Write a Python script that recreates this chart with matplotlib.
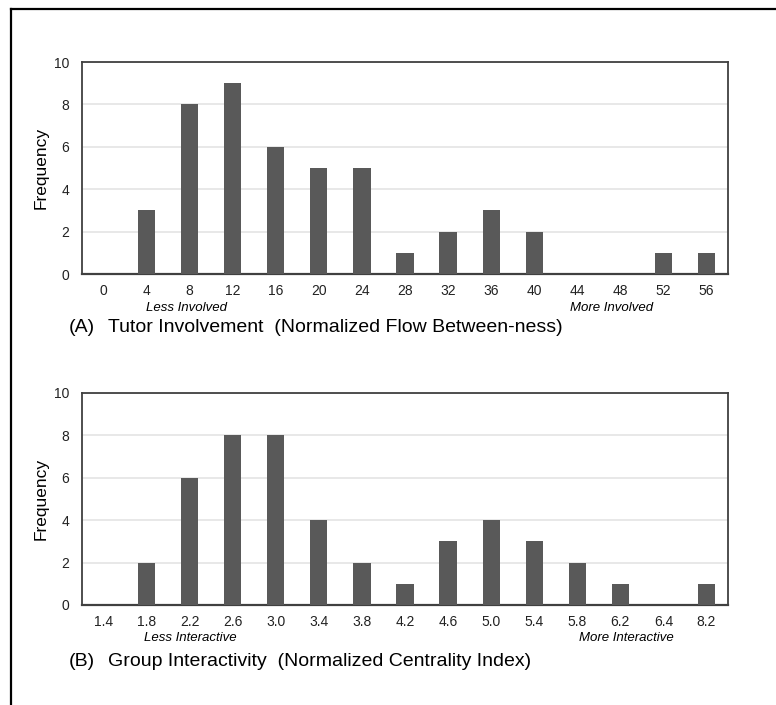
import matplotlib
matplotlib.use("Agg")
import matplotlib.pyplot as plt
from matplotlib.lines import Line2D

plt.rcParams['font.family'] = ['Liberation Sans', 'DejaVu Sans']

# panel A: tutor involvement
tutor_bins = ['0', '4', '8', '12', '16', '20', '24', '28', '32', '36', '40', '44', '48', '52', '56']
tutor_freq = [0, 3, 8, 9, 6, 5, 5, 1, 2, 3, 2, 0, 0, 1, 1]

# panel B: group interactivity
group_bins = ['1.4', '1.8', '2.2', '2.6', '3.0', '3.4', '3.8', '4.2', '4.6', '5.0', '5.4', '5.8', '6.2', '6.4', '8.2']
group_freq = [0, 2, 6, 8, 8, 4, 2, 1, 3, 4, 3, 2, 1, 0, 1]

W, H = 776, 705
BAR = '#595959'
SPINE = '#404040'
GRID = '#e4e4e4'


def px(x, y):
    return x / W, 1 - y / H


fig = plt.figure(figsize=(W / 100, H / 100), dpi=100)

# outer frame (left and top edges only)
fig.add_artist(Line2D([11 / W, 11 / W], [0, 1 - 9 / H], color='black', lw=1.6, transform=fig.transFigure))
fig.add_artist(Line2D([11 / W, 1], [1 - 9 / H, 1 - 9 / H], color='black', lw=1.6, transform=fig.transFigure))


def draw_panel(top_px, bins, freq):
    ax = fig.add_axes([82 / W, 1 - (top_px + 212) / H, 646 / W, 212 / H])
    pos = range(len(bins))
    ax.bar(pos, freq, width=0.4, color=BAR, zorder=3)
    ax.set_xlim(-0.5, len(bins) - 0.5)
    ax.set_ylim(0, 10)
    ax.set_yticks(range(0, 11, 2))
    ax.set_xticks(list(pos))
    ax.set_xticklabels(bins)
    ax.tick_params(axis='both', length=0, labelsize=10, colors='#222222')
    ax.tick_params(axis='x', pad=7)
    ax.tick_params(axis='y', pad=9)
    ax.yaxis.grid(True, color=GRID, lw=1.2, zorder=0)
    for s in ax.spines.values():
        s.set_color(SPINE)
        s.set_linewidth(1.3)
    ax.spines['bottom'].set_linewidth(1.6)
    ax.set_ylabel('Frequency', fontsize=12.5, labelpad=4)
    return ax


ax1 = draw_panel(62, tutor_bins, tutor_freq)
ax2 = draw_panel(393, group_bins, group_freq)

# panel A annotations
fig.text(*px(186, 308), 'Less Involved', style='italic', fontsize=9.5, ha='center', va='center')
fig.text(*px(612, 308), 'More Involved', style='italic', fontsize=9.5, ha='center', va='center')
fig.text(*px(69, 327), '(A)', fontsize=14, ha='left', va='center')
fig.text(*px(108, 327), 'Tutor Involvement  (Normalized Flow Between-ness)', fontsize=14, ha='left', va='center')

# panel B annotations
fig.text(*px(190, 638), 'Less Interactive', style='italic', fontsize=9.5, ha='center', va='center')
fig.text(*px(626, 638), 'More Interactive', style='italic', fontsize=9.5, ha='center', va='center')
fig.text(*px(69, 661), '(B)', fontsize=14, ha='left', va='center')
fig.text(*px(108, 661), 'Group Interactivity  (Normalized Centrality Index)', fontsize=14, ha='left', va='center')

fig.savefig('out.png', dpi=100)
